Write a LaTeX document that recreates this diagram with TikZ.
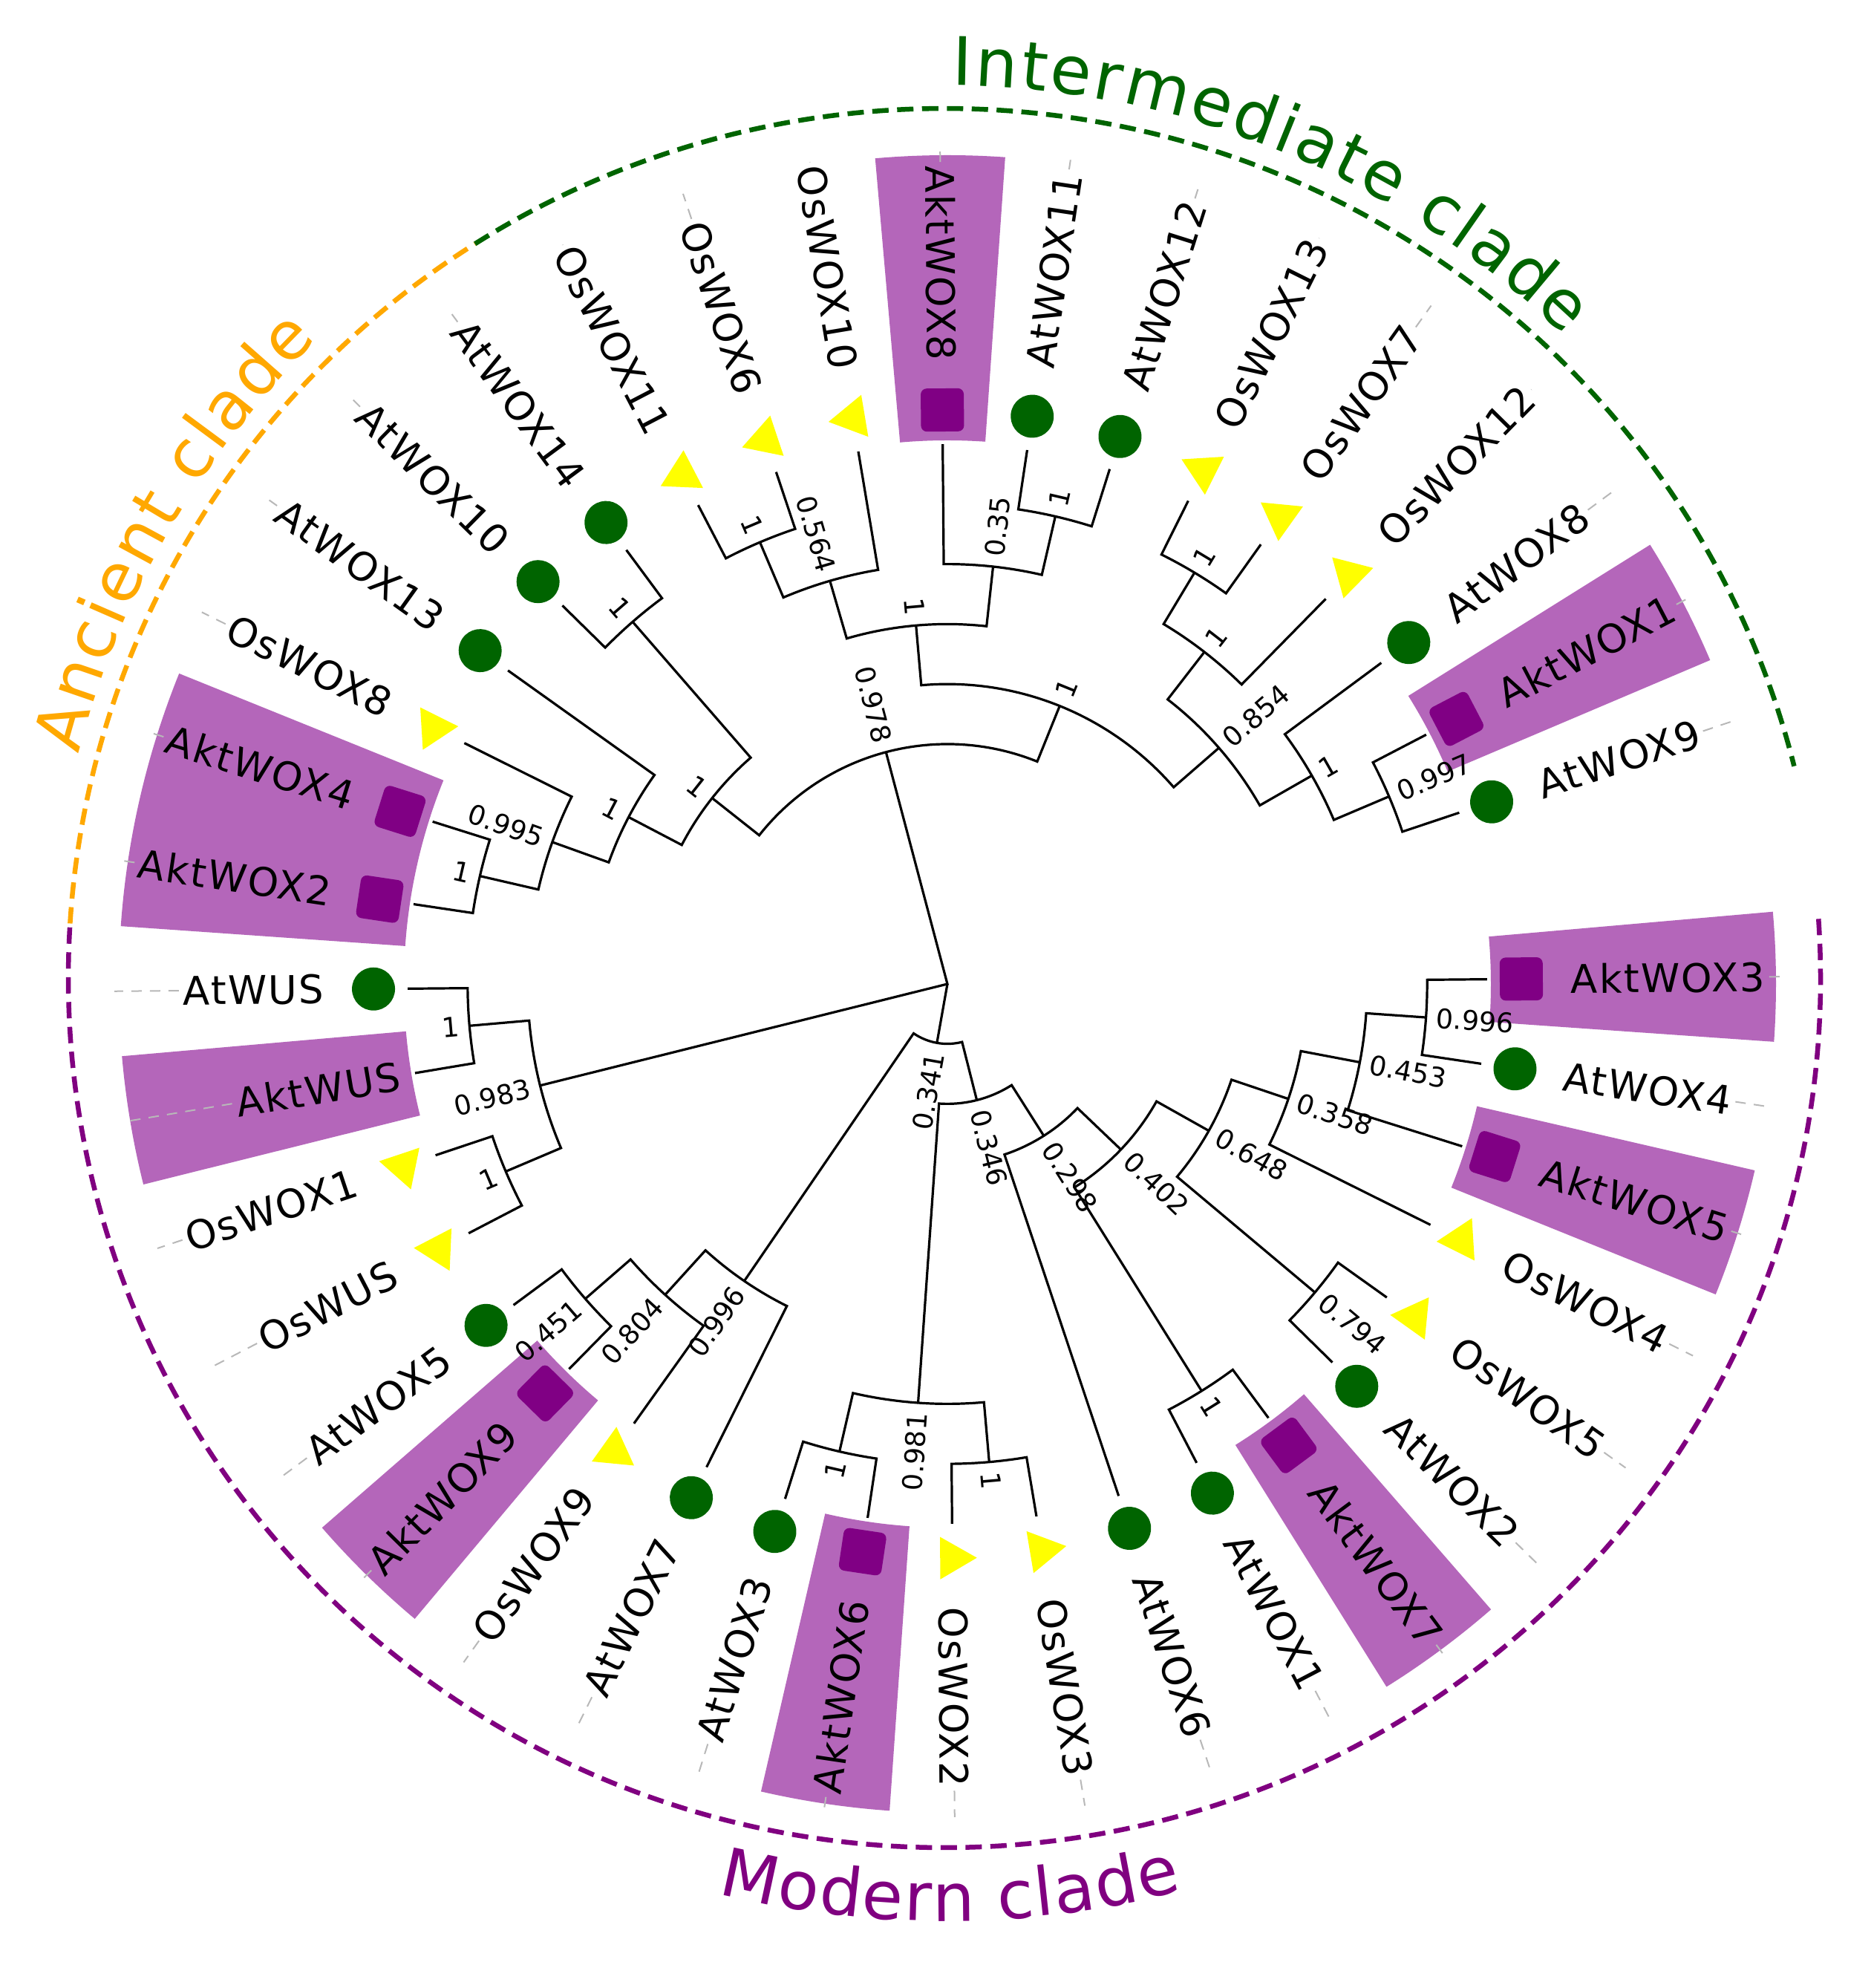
\documentclass[tikz,border=0pt]{standalone}
\usepackage{fontspec}
\setmainfont{DejaVu Sans}
\newfontfamily\leaffam[LetterSpace=4]{DejaVu Sans}
\newfontfamily\suppfam{DejaVu Sans}
\newfontfamily\cladefam{DejaVu Sans}
\usetikzlibrary{decorations.text,shapes.geometric}
\definecolor{hlbox}{RGB}{180,102,186}
\definecolor{sqpurple}{RGB}{128,0,132}
\definecolor{cigreen}{RGB}{0,100,0}
\definecolor{triyellow}{RGB}{255,255,0}
\definecolor{ancorange}{RGB}{255,168,0}
\definecolor{intgreen}{RGB}{0,100,0}
\definecolor{modpurple}{RGB}{128,0,128}
\newcommand{\cladefont}{\cladefam\fontsize{25.6}{30}\selectfont}
\tikzset{
  br/.style={draw=black, line width=0.32mm},
  leaflab/.style={font=\leaffam\fontsize{15.1}{18}\selectfont, inner sep=0.5mm},
  supp/.style={font=\suppfam\fontsize{10.4}{12}\selectfont, inner sep=0.3mm},
  leader/.style={draw=black!28, line width=0.2mm, dash pattern=on 1.4mm off 1.1mm},
  ci/.style={circle, fill=cigreen, minimum size=5.8mm, inner sep=0pt},
  sq/.style={rectangle, rounded corners=0.8mm, fill=sqpurple, minimum size=5.8mm, inner sep=0pt},
  tri/.style={regular polygon, regular polygon sides=3, fill=triyellow, minimum size=6.6mm, inner sep=0pt},
  cladedash/.style={line width=0.65mm, dash pattern=on 2.2mm off 1.15mm},
  hl/.style={fill=hlbox},
}
\newcommand{\hlsector}[2]{\fill[hl] (#1:7.32) arc[start angle=#1, end angle=#2, radius=7.32] -- (#2:11.16) arc[start angle=#2, end angle=#1, radius=11.16] -- cycle;}
\newcommand{\leafat}[3]{%
  \pgfmathsetmacro{\la}{9*#1+0.5}%
  \coordinate (t-#2) at (\la:7.27);
  \pgfmathtruncatemacro{\lft}{(\la>90)&&(\la<270)}%
  \ifnum\lft=1
    \node[leaflab, anchor=east, rotate=\la-180] (l-#2) at (\la:#3) {#2};
    \draw[leader] (l-#2.west) -- (\la:11.22);
  \else
    \node[leaflab, anchor=west, rotate=\la] (l-#2) at (\la:#3) {#2};
    \draw[leader] (l-#2.east) -- (\la:11.22);
  \fi}
\newcommand{\mkr}[3]{%
  \pgfmathsetmacro{\ma}{9*#1+0.5}%
  \node[#3, rotate=\ma] (mk-#2) at (\ma:7.73) {};}
\newcommand{\inode}[8]{%
  \coordinate (#1) at (#2:#3);
  \draw[br] (#5) -- (#6:#3) arc[start angle=#6, end angle=#8, radius=#3] -- (#7);
  \pgfmathsetmacro{\sa}{mod(#2+360,360)}%
  \pgfmathsetmacro{\sr}{#3+0.1}%
  \pgfmathtruncatemacro{\lft}{(\sa>90)&&(\sa<270)}%
  \ifnum\lft=1
    \node[supp, anchor=east, rotate=\sa-180] (s-#1) at (#2:\sr) {#4};
  \else
    \node[supp, anchor=west, rotate=\sa] (s-#1) at (#2:\sr) {#4};
  \fi}
\begin{document}
\begin{tikzpicture}
\path[fill=white] (-12.76,-13.52) rectangle (12.48,13.25);
\useasboundingbox (-12.76,-13.52) rectangle (12.48,13.25);

% highlight sectors
\hlsector{-4}{5}
\hlsector{23}{32}
\hlsector{86}{95}
\hlsector{158}{176}
\hlsector{185}{194}
\hlsector{221}{230}
\hlsector{257}{266}
\hlsector{302}{311}
\hlsector{338}{347}

% clade arcs and names
\begin{scope}[shift={(-0.04,0.08)}]
 \draw[cladedash, draw=ancorange] (176.4:11.80 and 11.71) arc[start angle=176.4, end angle=122.4, x radius=11.80, y radius=11.71];
 \draw[cladedash, draw=intgreen] (122.4:11.80 and 11.71) arc[start angle=122.4, end angle=14.1, x radius=11.80, y radius=11.71];
 \draw[cladedash, draw=modpurple] (3.9:11.80 and 11.71) arc[start angle=3.9, end angle=-183.6, x radius=11.80, y radius=11.71];
 \path[decorate, decoration={text along path, text align={fit to path},
   text={|\cladefont\color{intgreen}|Intermediate clade}}]
   (89.5:12.02) arc[start angle=89.5, end angle=46, radius=12.02];
 \path[decorate, decoration={text along path, text align={fit to path},
   text={|\cladefont\color{ancorange}|Ancient clade}}]
   (165.5:12.05) arc[start angle=165.5, end angle=134.5, radius=12.05];
 \path[decorate, decoration={text along path, text align={fit to path},
   text={|\cladefont\color{modpurple}|Modern clade}}]
   (256.1:12.70) arc[start angle=256.1, end angle=284.6, radius=12.70];
\end{scope}

% leaves: tips, labels, leaders
\leafat{0}{AktWOX3}{8.34}
\leafat{2}{AtWOX9}{8.34}
\leafat{3}{AktWOX1}{8.34}
\leafat{4}{AtWOX8}{8.34}
\leafat{5}{OsWOX12}{8.34}
\leafat{6}{OsWOX7}{8.34}
\leafat{7}{OsWOX13}{8.34}
\leafat{8}{AtWOX12}{8.34}
\leafat{9}{AtWOX11}{8.34}
\leafat{10}{AktWOX8}{8.34}
\leafat{11}{OsWOX10}{8.34}
\leafat{12}{OsWOX6}{8.34}
\leafat{13}{OsWOX11}{8.34}
\leafat{14}{AtWOX14}{8.34}
\leafat{15}{AtWOX10}{8.34}
\leafat{16}{AtWOX13}{8.34}
\leafat{17}{OsWOX8}{8.34}
\leafat{18}{AktWOX4}{8.34}
\leafat{19}{AktWOX2}{8.34}
\leafat{20}{AtWUS}{8.34}
\leafat{21}{AktWUS}{7.42}
\leafat{22}{OsWOX1}{8.34}
\leafat{23}{OsWUS}{8.34}
\leafat{24}{AtWOX5}{8.34}
\leafat{25}{AktWOX9}{8.34}
\leafat{26}{OsWOX9}{8.34}
\leafat{27}{AtWOX7}{8.34}
\leafat{28}{AtWOX3}{8.34}
\leafat{29}{AktWOX6}{8.34}
\leafat{30}{OsWOX2}{8.34}
\leafat{31}{OsWOX3}{8.34}
\leafat{32}{AtWOX6}{8.34}
\leafat{33}{AtWOX1}{8.34}
\leafat{34}{AktWOX7}{8.34}
\leafat{35}{AtWOX2}{8.34}
\leafat{36}{OsWOX5}{8.34}
\leafat{37}{OsWOX4}{8.34}
\leafat{38}{AktWOX5}{8.34}
\leafat{39}{AtWOX4}{8.34}

% markers
\mkr{2}{AtWOX9}{ci}
\mkr{4}{AtWOX8}{ci}
\mkr{8}{AtWOX12}{ci}
\mkr{9}{AtWOX11}{ci}
\mkr{14}{AtWOX14}{ci}
\mkr{15}{AtWOX10}{ci}
\mkr{16}{AtWOX13}{ci}
\mkr{20}{AtWUS}{ci}
\mkr{24}{AtWOX5}{ci}
\mkr{27}{AtWOX7}{ci}
\mkr{28}{AtWOX3}{ci}
\mkr{32}{AtWOX6}{ci}
\mkr{33}{AtWOX1}{ci}
\mkr{35}{AtWOX2}{ci}
\mkr{39}{AtWOX4}{ci}
\mkr{0}{AktWOX3}{sq}
\mkr{3}{AktWOX1}{sq}
\mkr{10}{AktWOX8}{sq}
\mkr{18}{AktWOX4}{sq}
\mkr{19}{AktWOX2}{sq}
\mkr{25}{AktWOX9}{sq}
\mkr{29}{AktWOX6}{sq}
\mkr{34}{AktWOX7}{sq}
\mkr{38}{AktWOX5}{sq}
\mkr{5}{OsWOX12}{tri}
\mkr{6}{OsWOX7}{tri}
\mkr{7}{OsWOX13}{tri}
\mkr{11}{OsWOX10}{tri}
\mkr{12}{OsWOX6}{tri}
\mkr{13}{OsWOX11}{tri}
\mkr{17}{OsWOX8}{tri}
\mkr{22}{OsWOX1}{tri}
\mkr{23}{OsWUS}{tri}
\mkr{26}{OsWOX9}{tri}
\mkr{30}{OsWOX2}{tri}
\mkr{31}{OsWOX3}{tri}
\mkr{36}{OsWOX5}{tri}
\mkr{37}{OsWOX4}{tri}

% internal nodes
\inode{m1}{356.0}{6.462}{0.996}{t-AktWOX3}{360.5}{t-AtWOX4}{351.5}
\inode{m2}{349.25}{5.654}{0.453}{m1}{356.0}{t-AktWOX5}{342.5}
\inode{m3}{341.375}{4.846}{0.358}{m2}{349.25}{t-OsWOX4}{333.5}
\inode{m4}{320.0}{6.462}{0.794}{t-OsWOX5}{324.5}{t-AtWOX2}{315.5}
\inode{m5}{330.69}{4.038}{0.648}{m3}{341.375}{m4}{320.0}
\inode{m6}{302.0}{6.462}{1}{t-AtWOX1}{297.5}{t-AktWOX7}{306.5}
\inode{m7}{316.34}{3.23}{0.402}{m6}{302.0}{m5}{330.69}
\inode{m8}{302.42}{2.422}{0.298}{t-AtWOX6}{288.5}{m7}{316.34}
\inode{m9}{257.0}{6.462}{1}{t-AtWOX3}{252.5}{t-AktWOX6}{261.5}
\inode{m10}{275.0}{6.462}{1}{t-OsWOX2}{270.5}{t-OsWOX3}{279.5}
\inode{m11}{266.0}{5.654}{0.981}{m9}{257.0}{m10}{275.0}
\inode{m12}{284.21}{1.614}{0.346}{m11}{266.0}{m8}{302.42}
\inode{m13}{221.0}{6.462}{0.451}{t-AtWOX5}{216.5}{t-AktWOX9}{225.5}
\inode{m14}{227.75}{5.654}{0.804}{m13}{221.0}{t-OsWOX9}{234.5}
\inode{m15}{235.63}{4.846}{0.996}{m14}{227.75}{t-AtWOX7}{243.5}
\inode{m16}{259.92}{0.806}{0.341}{m15}{235.63}{m12}{284.21}
\inode{w1}{185.0}{6.462}{1}{t-AtWUS}{180.5}{t-AktWUS}{189.5}
\inode{w2}{203.0}{6.462}{1}{t-OsWOX1}{198.5}{t-OsWUS}{207.5}
\inode{w3}{194.0}{5.654}{0.983}{w1}{185.0}{w2}{203.0}
\inode{a1}{167.0}{6.462}{1}{t-AktWOX4}{162.5}{t-AktWOX2}{171.5}
\inode{a2}{160.25}{5.654}{0.995}{t-OsWOX8}{153.5}{a1}{167.0}
\inode{a3}{152.38}{4.846}{1}{t-AtWOX13}{144.5}{a2}{160.25}
\inode{a4}{131.0}{6.462}{1}{t-AtWOX14}{126.5}{t-AtWOX10}{135.5}
\inode{a5}{141.69}{4.038}{1}{a4}{131.0}{a3}{152.38}
\inode{i1}{113.0}{6.462}{1}{t-OsWOX11}{117.5}{t-OsWOX6}{108.5}
\inode{i2}{106.25}{5.654}{0.564}{i1}{113.0}{t-OsWOX10}{99.5}
\inode{i3}{77.0}{6.462}{1}{t-AtWOX11}{81.5}{t-AtWOX12}{72.5}
\inode{i4}{83.75}{5.654}{0.35}{t-AktWOX8}{90.5}{i3}{77.0}
\inode{i5}{95.0}{4.846}{1}{i2}{106.25}{i4}{83.75}
\inode{i6}{59.0}{6.462}{1}{t-OsWOX13}{63.5}{t-OsWOX7}{54.5}
\inode{i7}{52.25}{5.654}{1}{i6}{59.0}{t-OsWOX12}{45.5}
\inode{i8}{23.0}{6.462}{0.997}{t-AktWOX1}{27.5}{t-AtWOX9}{18.5}
\inode{i9}{29.75}{5.654}{1}{t-AtWOX8}{36.5}{i8}{23.0}
\inode{i10}{41.0}{4.846}{0.854}{i7}{52.25}{i9}{29.75}
\inode{i11}{68.0}{4.038}{1}{i5}{95.0}{i10}{41.0}
\inode{i12}{104.84}{3.23}{0.978}{a5}{141.69}{i11}{68.0}

% root
\coordinate (root) at (0,0);
\draw[br] (i12) -- (root) -- (w3);
\draw[br] (root) -- (m16);
\end{tikzpicture}
\end{document}
